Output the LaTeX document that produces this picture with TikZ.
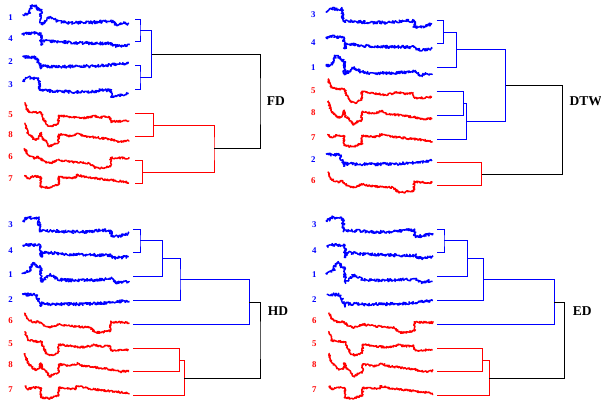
\documentclass[tikz,border=0pt]{standalone}
\usepackage{fontspec}
\setmainfont{Liberation Serif}
\usetikzlibrary{decorations.pathmorphing}

\definecolor{tsblue}{RGB}{0,0,255}
\definecolor{tsred}{RGB}{255,0,0}

\tikzset{
  tsline/.style={line width=1.45pt, line join=round, decorate,
    decoration={random steps, segment length=0.6pt, amplitude=#1}},
  tsline/.default=1pt,
  % the eight noisy time series, drawn from their start point
  ts/.pic={%
    \ifcase#1\or
      \draw[tsline=1.5pt] (0,-2) -- (5,-3) -- (7,-5) -- (9,-11) -- (12,-12) -- (15,-8) -- (18,-8) -- (18.5,7) -- (22,4) -- (27,0) -- (30,1) -- (35,4) -- (40,5) -- (50,5.5) -- (70,5) -- (85,4) -- (88,3.5) -- (90,4) -- (92,7) -- (96,7.5) -- (101,6) -- (106,6.5);
    \or
      \draw[tsline=1.5pt] (0,-5) -- (12,-4.5) -- (14,-3.5) -- (17,3) -- (18,7) -- (19,4) -- (23,4.5) -- (40,5) -- (70,4.5) -- (85,3.5) -- (106,1.5);
    \or
      \draw[tsline=1.5pt] (0,-2.5) -- (5,-7) -- (10,-6) -- (16,-6) -- (17,6) -- (22,6) -- (30,6.5) -- (45,7.5) -- (65,7.5) -- (78,6) -- (88,6) -- (88.5,12) -- (97,11.5) -- (106,9);
    \or
      \draw[tsline=1.5pt] (0,-4.5) -- (5,-6) -- (10,-6) -- (15,-5.5) -- (18,-5.5) -- (18.5,3) -- (19,6) -- (20,2) -- (22,1.5) -- (37,3) -- (57,4) -- (89,4.5) -- (90,7) -- (97,7) -- (106,6);
    \or
      \draw[tsline=1pt] (2,-12) -- (5,-3) -- (12,-2) -- (18.5,-1.5) -- (21,5) -- (24,10.5) -- (29,12) -- (33.5,10) -- (35.5,9) -- (36,1) -- (42,2) -- (58.5,4) -- (66,3) -- (72,1.5) -- (78,3) -- (87,2.5) -- (88.6,7.5) -- (95,7) -- (106,6.5);
    \or
      \draw[tsline=1pt] (2,-8.4) -- (5.3,-1.7) -- (12.3,1.6) -- (15.3,0) -- (22.3,5) -- (27.3,6.6) -- (35.3,3.3) -- (47.3,5) -- (67.3,6.6) -- (72,11) -- (77.3,11.6) -- (85.3,10) -- (87.8,10) -- (88,1) -- (106.3,1.6);
    \or
      \draw[tsline=1pt] (2,-3.3) -- (5.3,0) -- (10,-1.6) -- (18,-1.6) -- (18.3,8.4) -- (27.3,9.4) -- (32.3,7) -- (35.8,6.7) -- (36,-1.6) -- (47.3,-0.6) -- (53.4,-0.6) -- (53.6,-3.3) -- (67.3,-0.6) -- (87.3,1.7) -- (102.3,3.4) -- (106.3,5);
    \or
      \draw[tsline=1pt] (2,-11.7) -- (5.3,-1.7) -- (12.3,5) -- (16,4) -- (18,-2) -- (19.5,4) -- (22.3,5) -- (27,11.7) -- (32.3,8.3) -- (35.5,8) -- (36,-0.7) -- (47.3,1) -- (55.3,-1.7) -- (60,1) -- (67.3,1.7) -- (87.3,4.3) -- (97.3,6.7) -- (106.3,5.7);
    \fi},
  idlabel/.style={font=\fontsize{8.8}{10}\selectfont\bfseries, inner sep=0pt},
  tag/.style={font=\fontsize{13.5}{16}\selectfont\bfseries, anchor=west, inner sep=0pt},
  link/.style={line width=0.8pt},
}

\begin{document}
\begin{tikzpicture}[x=1pt, y=-1pt]
\pgfmathsetseed{7}
\fill[white] (0,0) rectangle (601,410);
\useasboundingbox (0,0) rectangle (601,410);

% ---------- FD ----------
\foreach \id/\yy/\col in {1/17.3/tsblue, 4/39/tsblue, 2/61.7/tsblue, 3/84.3/tsblue,
                          5/114.3/tsred, 8/135/tsred, 6/156.7/tsred, 7/178.3/tsred} {
  \node[idlabel, text=\col] (fd-n\id) at (10.7,\yy) {\id};
  \pic[color=\col] at (22.7,\yy) {ts=\id};
}
\coordinate (fd-l1) at (135,19);
\coordinate (fd-l4) at (135,41.7);
\coordinate (fd-l2) at (135,65.7);
\coordinate (fd-l3) at (135,89.3);
\coordinate (fd-l5) at (135,113.3);
\coordinate (fd-l8) at (135,136.7);
\coordinate (fd-l6) at (135,160.7);
\coordinate (fd-l7) at (135,183.3);
\coordinate (fd-m14) at (140,30.35);
\coordinate (fd-m23) at (140,77.5);
\coordinate (fd-mb) at (151.7,53.9);
\coordinate (fd-m58) at (153.3,125);
\coordinate (fd-m67) at (142.7,172);
\coordinate (fd-mr) at (214,148.5);
\coordinate (fd-root) at (260,101.2);
\draw[link, tsblue] (fd-l1) -| (fd-m14) |- (fd-l4);
\draw[link, tsblue] (fd-l2) -| (fd-m23) |- (fd-l3);
\draw[link, tsblue] (fd-m14) -| (fd-mb) |- (fd-m23);
\draw[link, tsred] (fd-l5) -| (fd-m58) |- (fd-l8);
\draw[link, tsred] (fd-l6) -| (fd-m67) |- (fd-l7);
\draw[link, tsred] (fd-m58) -| (fd-mr) |- (fd-m67);
\draw[link, black] (fd-mb) -| (fd-root) |- (fd-mr);
\node[tag] (fd-tag) at (266.7,100.7) {FD};

% ---------- DTW ----------
\foreach \id/\yy/\col in {3/15/tsblue, 4/42.7/tsblue, 1/67.7/tsblue, 5/90.7/tsred,
                          8/112.7/tsred, 7/137.3/tsred, 2/159.3/tsblue, 6/181/tsred} {
  \node[idlabel, text=\col] (dtw-n\id) at (313.3,\yy) {\id};
  \pic[color=\col] at (326,\yy) {ts=\id};
}
\coordinate (dtw-l3) at (436.7,20.7);
\coordinate (dtw-l4) at (436.7,43.3);
\coordinate (dtw-l1) at (436.7,67.7);
\coordinate (dtw-l5) at (436.7,91);
\coordinate (dtw-l8) at (436.7,115);
\coordinate (dtw-l7) at (436.7,139);
\coordinate (dtw-l2) at (436.7,162.7);
\coordinate (dtw-l6) at (436.7,185.7);
\coordinate (dtw-m34) at (443.3,32);
\coordinate (dtw-m341) at (456.7,49.85);
\coordinate (dtw-m58) at (463.3,103);
\coordinate (dtw-m587) at (466.7,121);
\coordinate (dtw-mb) at (505.7,85.4);
\coordinate (dtw-m26) at (481.7,174.2);
\coordinate (dtw-root) at (562.3,129.8);
\draw[link, tsblue] (dtw-l3) -| (dtw-m34) |- (dtw-l4);
\draw[link, tsblue] (dtw-m34) -| (dtw-m341) |- (dtw-l1);
\draw[link, tsblue] (dtw-l5) -| (dtw-m58) |- (dtw-l8);
\draw[link, tsblue] (dtw-m58) -| (dtw-m587) |- (dtw-l7);
\draw[link, tsblue] (dtw-m341) -| (dtw-mb) |- (dtw-m587);
\draw[link, tsred] (dtw-l2) -| (dtw-m26) |- (dtw-l6);
\draw[link, black] (dtw-mb) -| (dtw-root) |- (dtw-m26);
\node[tag] (dtw-tag) at (569.3,100.7) {DTW};

% ---------- HD ----------
\foreach \id/\yy/\col in {3/224.3/tsblue, 4/250.7/tsblue, 1/275/tsblue, 2/299.3/tsblue,
                          6/321/tsred, 5/343.3/tsred, 8/365/tsred, 7/389.3/tsred} {
  \node[idlabel, text=\col] (hd-n\id) at (10.7,\yy) {\id};
  \pic[color=\col] at (22.7,\yy) {ts=\id};
}
\coordinate (hd-l3) at (133.3,229);
\coordinate (hd-l4) at (133.3,252.7);
\coordinate (hd-l1) at (133.3,276.7);
\coordinate (hd-l2) at (133.3,300.7);
\coordinate (hd-l6) at (133.3,324);
\coordinate (hd-l5) at (133.3,348.3);
\coordinate (hd-l8) at (133.3,371.7);
\coordinate (hd-l7) at (133.3,395.7);
\coordinate (hd-m34) at (140,240.85);
\coordinate (hd-m341) at (162.7,258.8);
\coordinate (hd-m3412) at (180,279.7);
\coordinate (hd-mb) at (249.3,301.9);
\coordinate (hd-m58) at (179.3,360);
\coordinate (hd-m587) at (184.3,377.9);
\coordinate (hd-root) at (260,339.9);
\draw[link, tsblue] (hd-l3) -| (hd-m34) |- (hd-l4);
\draw[link, tsblue] (hd-m34) -| (hd-m341) |- (hd-l1);
\draw[link, tsblue] (hd-m341) -| (hd-m3412) |- (hd-l2);
\draw[link, tsblue] (hd-m3412) -| (hd-mb) |- (hd-l6);
\draw[link, tsred] (hd-l5) -| (hd-m58) |- (hd-l8);
\draw[link, tsred] (hd-m58) -| (hd-m587) |- (hd-l7);
\draw[link, black] (hd-mb) -| (hd-root) |- (hd-m587);
\node[tag] (hd-tag) at (267.7,311) {HD};

% ---------- ED ----------
\foreach \id/\yy/\col in {3/224.3/tsblue, 4/251/tsblue, 1/275/tsblue, 2/299.3/tsblue,
                          6/321/tsred, 5/343.3/tsred, 8/365/tsred, 7/389.3/tsred} {
  \node[idlabel, text=\col] (ed-n\id) at (314.3,\yy) {\id};
  \pic[color=\col] at (326.7,\yy) {ts=\id};
}
\coordinate (ed-l3) at (437.3,229);
\coordinate (ed-l4) at (437.3,252.7);
\coordinate (ed-l1) at (437.3,276.7);
\coordinate (ed-l2) at (437.3,300.7);
\coordinate (ed-l6) at (437.3,324);
\coordinate (ed-l5) at (437.3,348.3);
\coordinate (ed-l8) at (437.3,371.7);
\coordinate (ed-l7) at (437.3,395.7);
\coordinate (ed-m34) at (444,240.85);
\coordinate (ed-m341) at (467.3,258.8);
\coordinate (ed-m3412) at (483.3,279.7);
\coordinate (ed-mb) at (554,301.9);
\coordinate (ed-m58) at (482.7,360);
\coordinate (ed-m587) at (489,377.9);
\coordinate (ed-root) at (564.3,339.9);
\draw[link, tsblue] (ed-l3) -| (ed-m34) |- (ed-l4);
\draw[link, tsblue] (ed-m34) -| (ed-m341) |- (ed-l1);
\draw[link, tsblue] (ed-m341) -| (ed-m3412) |- (ed-l2);
\draw[link, tsblue] (ed-m3412) -| (ed-mb) |- (ed-l6);
\draw[link, tsred] (ed-l5) -| (ed-m58) |- (ed-l8);
\draw[link, tsred] (ed-m58) -| (ed-m587) |- (ed-l7);
\draw[link, black] (ed-mb) -| (ed-root) |- (ed-m587);
\node[tag] (ed-tag) at (572.7,311) {ED};
\end{tikzpicture}
\end{document}
